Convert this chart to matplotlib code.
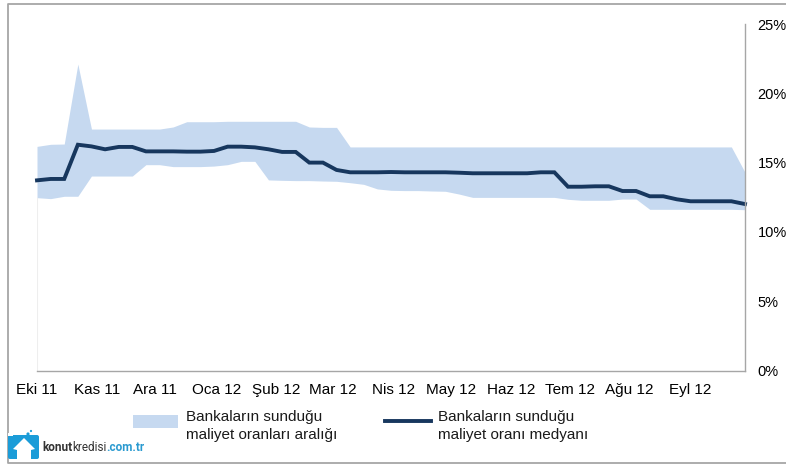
import numpy as np
import matplotlib
matplotlib.use('Agg')
import matplotlib.pyplot as plt
from matplotlib.patches import Polygon, Rectangle, Circle, FancyBboxPatch

plt.rcParams['font.family'] = ['Liberation Sans', 'DejaVu Sans']

# weekly values
median = [13.72, 13.82, 13.82, 16.29, 16.17, 15.96, 16.13, 16.13, 15.81, 15.81,
          15.81, 15.79, 15.79, 15.84, 16.15, 16.15, 16.10, 15.96, 15.77, 15.77,
          15.00, 15.00, 14.47, 14.30, 14.30, 14.30, 14.32, 14.30, 14.30, 14.30,
          14.30, 14.27, 14.23, 14.23, 14.23, 14.23, 14.23, 14.30, 14.30, 13.26,
          13.26, 13.29, 13.29, 12.95, 12.95, 12.57, 12.57, 12.35, 12.21, 12.21,
          12.21, 12.21, 12.01]
upper = [16.17, 16.32, 16.34, 22.11, 17.42, 17.42, 17.42, 17.42, 17.42, 17.42,
         17.57, 17.95, 17.95, 17.95, 17.98, 17.98, 17.98, 17.98, 17.98, 17.98,
         17.57, 17.54, 17.54, 16.13, 16.13, 16.13, 16.13, 16.13, 16.13, 16.13,
         16.13, 16.13, 16.13, 16.13, 16.13, 16.13, 16.13, 16.13, 16.13, 16.13,
         16.13, 16.13, 16.13, 16.13, 16.13, 16.13, 16.13, 16.13, 16.13, 16.13,
         16.13, 16.13, 14.30]
lower = [12.47, 12.40, 12.57, 12.57, 14.03, 14.03, 14.03, 14.03, 14.85, 14.85,
         14.71, 14.71, 14.71, 14.75, 14.85, 15.09, 15.09, 13.75, 13.72, 13.70,
         13.70, 13.67, 13.65, 13.55, 13.43, 13.10, 13.00, 12.98, 12.98, 12.95,
         12.93, 12.73, 12.49, 12.49, 12.49, 12.49, 12.49, 12.49, 12.49, 12.35,
         12.28, 12.28, 12.28, 12.37, 12.37, 11.63, 11.63, 11.63, 11.63, 11.63,
         11.63, 11.63, 11.60]
month_pos = [0, 4.41, 8.68, 13.16, 17.57, 21.69, 26.18, 30.44, 34.85, 39.12, 43.53, 48.01]
month_labels = ['Eki 11', 'Kas 11', 'Ara 11', 'Oca 12', 'Şub 12', 'Mar 12',
                'Nis 12', 'May 12', 'Haz 12', 'Tem 12', 'Ağu 12', 'Eyl 12']
y_ticks = [0, 5, 10, 15, 20, 25]
x = np.arange(len(median))

fig = plt.figure(figsize=(7.86, 4.65), dpi=100)
ax = fig.add_axes([37 / 786, (465 - 370.5) / 465, 708 / 786, 346.5 / 465])

ax.fill_between(x, lower, upper, color='#c6d9f0', lw=0, label='Bankaların sunduğu\nmaliyet oranları aralığı')
ax.plot([0, 0], [0, lower[0]], color='#eeeeee', lw=0.8)
ax.plot(x, median, color='#17375e', lw=2.8, solid_joinstyle='miter',
        label='Bankaların sunduğu\nmaliyet oranı medyanı', clip_on=False)

ax.set_xlim(0, 52)
ax.set_ylim(0, 25)
ax.set_xticks(month_pos)
ax.set_xticklabels(month_labels)
ax.yaxis.tick_right()
ax.set_yticks(y_ticks)
ax.set_yticklabels([f'{v}%' for v in y_ticks])
ax.tick_params(length=0, labelsize=11, labelcolor='black')
ax.tick_params(axis='x', pad=9)
ax.tick_params(axis='y', pad=9, labelsize=10.5)
for side in ['top', 'left']:
    ax.spines[side].set_visible(False)
for side in ['bottom', 'right']:
    ax.spines[side].set_color('#a6a6a6')
    ax.spines[side].set_linewidth(1)

leg = ax.legend(loc='upper left', bbox_to_anchor=(96 / 708, -39 / 346.5), ncol=2, frameon=False,
                fontsize=11, handlelength=2.96, handleheight=0.95, handletextpad=0.5, columnspacing=3.15,
                borderpad=0, borderaxespad=0, labelspacing=0, labelcolor='#1a1a1a')
for txt in leg.get_texts():
    txt.set_linespacing(1.4)
# handles sit a little above the centre of the two text lines
patch_h, line_h = leg.legend_handles
patch_h.set_y(patch_h.get_y() + 3)
line_h.set_ydata(np.asarray(line_h.get_ydata()) + 3)

# outer frame and logo, drawn in pixel coordinates
over = fig.add_axes([0, 0, 1, 1], zorder=-1)
over.set_xlim(0, 786)
over.set_ylim(465, 0)
over.axis('off')
over.plot([800, 8, 8, 800], [4, 4, 463, 463], color='#a6a6a6', lw=1.3)

logo = fig.add_axes([0, 0, 1, 1], zorder=5)
logo.set_xlim(0, 786)
logo.set_ylim(465, 0)
logo.axis('off')
logo.patch.set_alpha(0)
logo.add_patch(FancyBboxPatch((10, 437), 27, 20, boxstyle='round,pad=2', color='#1b9cd8', lw=0))
logo.add_patch(Polygon([(24, 438), (13, 449), (17, 450), (17, 459), (31, 459), (31, 450), (35, 449)],
                       color='white', lw=0))
logo.add_patch(Rectangle((8, 433), 5, 3, color='white', lw=0))
logo.add_patch(Circle((28, 434), 1.6, color='#1b9cd8', lw=0))
logo.add_patch(Circle((31, 431), 1.1, color='#1b9cd8', lw=0))

t1 = logo.text(42, 447, 'konut', fontsize=8.5, fontweight='bold', color='#333333',
               va='center', ha='left', family=['Roboto', 'DejaVu Sans'])
fig.canvas.draw()
t2 = logo.text(t1.get_window_extent().x1, 447, 'kredisi', fontsize=8.5, color='#333333',
               va='center', ha='left', family=['Roboto', 'DejaVu Sans'])
fig.canvas.draw()
logo.text(t2.get_window_extent().x1, 447, '.com.tr', fontsize=8.5, fontweight='bold', color='#2a9ad0',
          va='center', ha='left', family=['Roboto', 'DejaVu Sans'])

fig.savefig('out.png', dpi=100)
